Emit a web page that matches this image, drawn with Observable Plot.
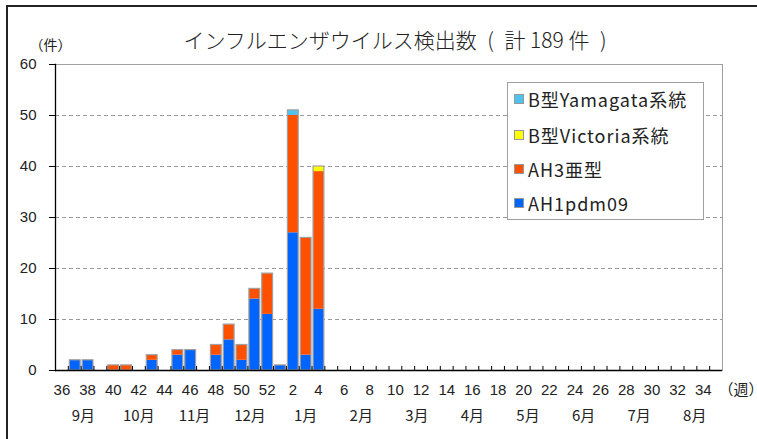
<!DOCTYPE html>
<html><head><meta charset="utf-8">
<script src="https://cdn.jsdelivr.net/npm/d3@7"></script>
<script src="https://cdn.jsdelivr.net/npm/@observablehq/plot@0.6"></script>
<style>
body{margin:0;background:#fff;font-family:"Liberation Sans",Arial,sans-serif;}
#wrap{position:relative;width:757px;height:439px;overflow:hidden;}
#border{position:absolute;left:6px;top:5px;width:800px;height:500px;border-top:2px solid #222;border-left:2px solid #222;pointer-events:none;}
#legend{position:absolute;left:507px;top:82px;width:195px;height:136px;border:1px solid #a0a0a0;background:#fff;font-family:"Noto Sans CJK JP",sans-serif;font-size:18px;letter-spacing:1px;color:#222;}
.row{position:absolute;left:6px;display:flex;align-items:center;height:22px;white-space:nowrap;}
.sw{width:8px;height:8px;border:1px solid #999;margin-right:4px;}
</style></head>
<body><div id="wrap"><div id="chart"></div><div id="legend"></div><div id="border"></div></div>
<script>
const weeks = ["36","37","38","39","40","41","42","43","44","45","46","47","48","49","50","51","52",
  "1","2","3","4","5","6","7","8","9","10","11","12","13","14","15","16","17","18","19","20",
  "21","22","23","24","25","26","27","28","29","30","31","32","33","34","35"];
// weeks 36..52, then 1..35
const ah1pdm09 = [0,2,2,0,0,0,0,2,0,3,4,0,3,6,2,14,11, 1,27,3,12,0,0,0,0,0,0,0,0,0,0,0,0,0,0,0,0,0,0,0,0,0,0,0,0,0,0,0,0,0,0,0];
const ah3      = [0,0,0,0,1,1,0,1,0,1,0,0,2,3,3,2,8, 0,23,23,27,0,0,0,0,0,0,0,0,0,0,0,0,0,0,0,0,0,0,0,0,0,0,0,0,0,0,0,0,0,0,0];
const victoria = [0,0,0,0,0,0,0,0,0,0,0,0,0,0,0,0,0, 0,0,0,1,0,0,0,0,0,0,0,0,0,0,0,0,0,0,0,0,0,0,0,0,0,0,0,0,0,0,0,0,0,0,0];
const yamagata = [0,0,0,0,0,0,0,0,0,0,0,0,0,0,0,0,0, 0,1,0,0,0,0,0,0,0,0,0,0,0,0,0,0,0,0,0,0,0,0,0,0,0,0,0,0,0,0,0,0,0,0,0];
const seriesNames = ["AH1pdm09","AH3亜型","B型Victoria系統","B型Yamagata系統"];
const seriesColors = ["#0064FF","#FF5000","#FFFF00","#4FC3F0"];
const months = ["9月","10月","11月","12月","1月","2月","3月","4月","5月","6月","7月","8月"];
const yTicks = [0,10,20,30,40,50,60];
const gridValues = [10,20,30,40,50];
const weekTicks = weeks.filter((d,i)=>i%2===0);
const title = "インフルエンザウイルス検出数\u2002(\u2002計 189 件\u2002)";

const seriesValues = [ah1pdm09, ah3, victoria, yamagata];
const table = [];
seriesValues.forEach((vals, s) => vals.forEach((v, i) => { if (v > 0) table.push({week: weeks[i], series: seriesNames[s], value: v}); }));
const totals = weeks.map((w, i) => ({week: w, total: seriesValues.reduce((a, vals) => a + vals[i], 0)})).filter(d => d.total > 0);

const W = 757, H = 439, mL = 55, mR = 35, mT = 64, mB = 69;
const step = (W - mL - mR) / weeks.length;

const monthMarks = months.map((m, k) => {
  const c = (k + 0.5) * weeks.length / months.length;
  const idx = Math.min(weeks.length - 1, Math.floor(c));
  return Plot.text([m], {x: () => weeks[idx], frameAnchor: "bottom", dy: 46, dx: (c - idx - 0.5) * step,
    fontSize: 15, fill: "#222", lineAnchor: "middle", fontFamily: "Noto Sans CJK JP"});
});

const chart = Plot.plot({
  width: W, height: H, marginLeft: mL, marginRight: mR, marginTop: mT, marginBottom: mB,
  style: {fontFamily: "Liberation Sans, Arial, sans-serif", background: "#fff", color: "#222"},
  x: {type: "band", domain: weeks, padding: 0},
  y: {domain: [0, 60]},
  color: {domain: seriesNames, range: seriesColors},
  marks: [
    Plot.frame({stroke: "#a0a0a0"}),
    Plot.ruleY(gridValues, {stroke: "#999", strokeDasharray: "4,3"}),
    Plot.barY(table, {x: "week", y: "value", fill: "series", order: seriesNames, insetLeft: 1.5, insetRight: 0.5}),
    Plot.barY(totals, {x: "week", y: "total", fill: "none", stroke: "#a0a0a0", strokeWidth: 1.2, insetLeft: 1.5, insetRight: 0.5}),
    Plot.ruleX(weeks, {x: d => d, y1: 0, y2: 0.8, dx: -step / 2, stroke: "#000"}),
    Plot.ruleY([0], {stroke: "#000", strokeWidth: 1.3}),
    Plot.frame({anchor: "left", stroke: "#000", strokeWidth: 1.3}),
    Plot.axisY({ticks: yTicks, tickSize: 6, tickPadding: 13, fontSize: 15, label: null, stroke: "#000"}),
    Plot.axisX({ticks: weekTicks, tickSize: 0, tickPadding: 14, fontSize: 15, label: null}),
    ...monthMarks,
    Plot.text(["（週）"], {frameAnchor: "bottom-right", dx: -4, dy: 20, textAnchor: "start", fontSize: 15, lineAnchor: "middle", fontFamily: "Noto Sans CJK JP"}),
    Plot.text(["（件）"], {frameAnchor: "top-left", dx: -5, dy: -19, textAnchor: "middle", fontSize: 14, lineAnchor: "middle", fontFamily: "Noto Sans CJK JP"}),
    Plot.text([title], {frameAnchor: "top", dx: 6, dy: -23, textAnchor: "middle", fontSize: 21, lineAnchor: "middle", fill: "#222", fontFamily: "Noto Sans CJK JP", fontWeight: 300})
  ]
});
document.getElementById("chart").appendChild(chart);

const legend = document.getElementById("legend");
const order = [3, 2, 1, 0];
const rowTops = [5, 41, 75, 109];
order.forEach((s, r) => {
  const row = document.createElement("div");
  row.className = "row";
  row.style.top = rowTops[r] + "px";
  row.innerHTML = `<span class="sw" style="background:${seriesColors[s]}"></span><span>${seriesNames[s]}</span>`;
  legend.appendChild(row);
});
</script></body></html>
